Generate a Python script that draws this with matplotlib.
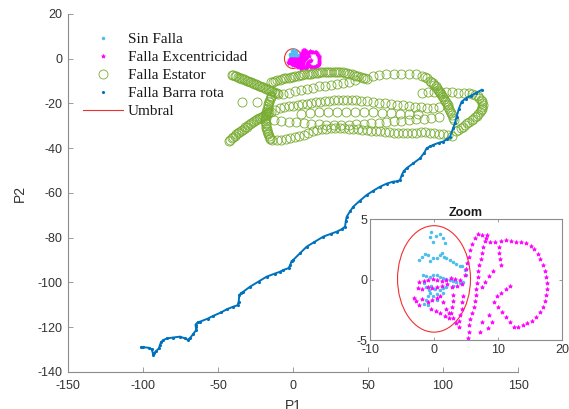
import numpy as np
import matplotlib
matplotlib.use('Agg')
import matplotlib.pyplot as plt
from matplotlib.patches import Ellipse
from matplotlib.lines import Line2D

plt.rcParams['font.family'] = ['Liberation Sans', 'DejaVu Sans']
plt.rcParams['axes.unicode_minus'] = False

# colores por clase
c_sin = '#4DBEEE'
c_exc = '#FF00FF'
c_est = '#77AC30'
c_bar = '#0072BD'
c_umb = '#F03030'

# --- Sin Falla ---
sin_pts = [(-0.4, 3.95), (-0.7, 3.5), (0.9, 3.8), (1.4, 3.4), (1.7, 3.0), (-0.2, 3.1), (0.3, 3.6),
           (-2.3, 1.6), (-1.9, 1.9), (-1.4, 2.1), (-0.9, 2.0), (-0.7, 1.5), (-0.2, 1.8), (0.4, 1.75),
           (0.9, 2.0), (1.2, 2.2), (1.6, 1.9), (1.9, 1.75), (2.5, 1.6), (3.0, 1.45), (3.5, 1.3),
           (4.0, 1.15), (4.3, 1.1), (4.8, 0.8), (5.0, 0.4),
           (-1.7, 0.4), (-1.2, 0.3), (-0.7, 0.2), (-0.1, 0.35), (0.4, 0.4), (0.9, 0.2), (1.4, 0.1),
           (1.9, 0.05), (2.5, 0.0), (3.0, -0.1), (3.5, -0.2), (4.1, -0.3), (4.6, -0.2),
           (-1.5, -0.3), (-1.2, -0.6), (-0.8, -0.9), (-0.7, -1.1), (-1.0, -1.4), (-1.2, -1.7),
           (-0.2, -1.4), (0.4, -1.2), (0.9, -0.9), (1.4, -0.7), (1.9, -0.6), (-0.9, -2.1),
           (-1.5, -2.0), (0.4, -1.7), (1.4, -1.1), (3.0, -0.5), (-0.4, -0.5), (0.2, -0.8)]

# --- Falla Excentricidad ---
exc_loop = [(6.9, 3.8), (7.5, 3.7), (8.1, 3.4), (8.8, 3.1), (9.6, 3.1), (10.4, 3.2), (11.2, 3.3),
            (12.0, 3.2), (12.8, 3.1), (13.6, 3.1), (14.4, 3.0), (15.1, 2.8), (15.7, 2.5), (16.2, 2.1),
            (16.6, 1.7), (17.0, 1.2), (17.3, 0.7), (17.5, 0.2), (17.6, -0.3), (17.6, -0.8), (17.5, -1.3),
            (17.3, -1.8), (17.0, -2.3), (16.6, -2.7), (16.0, -3.1), (15.3, -3.4), (14.6, -3.6),
            (13.9, -3.8), (13.2, -3.9), (12.5, -3.9), (11.8, -3.5), (11.2, -3.1), (10.6, -2.7),
            (10.0, -2.3), (9.4, -1.9)]
exc_lines = [(10.1, 2.7), (10.2, 2.2), (10.3, 1.7), (10.4, 1.2),
             (9.8, -1.4), (10.5, -1.1), (11.2, -0.8), (11.9, -0.5),
             (6.4, 3.4), (6.0, 2.9), (5.7, 2.4), (5.4, 1.9), (5.2, 1.4), (5.0, 0.9), (4.8, 0.4),
             (8.3, 3.7), (8.0, 3.2), (7.7, 2.7), (7.5, 2.2), (7.3, 1.7), (7.1, 1.2), (6.9, 0.7),
             (6.8, 0.2), (6.7, -0.3), (6.6, -0.8), (6.5, -1.3), (6.4, -1.8), (6.3, -2.3),
             (5.9, -2.8), (5.7, -3.3), (5.5, -3.8), (5.4, -4.3), (5.3, -4.8)]
exc_center = [(-2.3, -0.2), (-1.6, -0.1), (-0.9, 0.0), (-0.2, 0.05), (0.5, 0.0), (1.2, -0.1),
              (1.9, 0.0), (2.6, 0.1), (3.3, 0.05), (4.0, 0.0),
              (-2.5, -0.7), (-1.8, -0.8), (-1.0, -0.6), (-0.3, -0.7), (0.5, -0.6), (1.3, -0.5),
              (2.0, -0.4), (2.8, -0.6), (3.6, -0.5), (4.4, -0.4),
              (-3.2, -1.5), (-2.8, -1.8), (-2.4, -2.1), (-1.8, -1.6), (-1.0, -1.9), (-0.3, -1.7),
              (0.4, -1.5), (0.9, -1.4), (1.4, -1.9), (1.9, -2.4), (2.4, -2.8), (2.9, -3.2),
              (3.4, -3.6), (3.9, -3.9), (3.0, -1.3), (2.9, -1.8), (2.8, -2.3), (2.7, -2.8),
              (4.5, -1.4), (4.4, -1.9), (4.3, -2.4), (4.1, -2.9), (3.9, -3.4),
              (-0.4, -2.4), (0.3, -2.6), (1.0, -2.8), (1.7, -3.0), (2.4, -3.2),
              (8.0, -0.2), (8.6, 0.3), (9.2, 0.7), (7.5, -0.6), (8.6, -2.9), (9.0, -3.5),
              (8.4, -4.0), (7.5, -3.5), (7.2, -4.3)]

# --- Falla Estator (tramos de la trayectoria) ---
est_top_x = [-15, -13.5, -12, -10.5, -9, -7.5, -6, -4.5, -3, -1.5, 0, 1.5, 3, 4.5, 6, 7.5, 9, 10.5,
             12, 13.5, 15, 16.5, 18, 19.5, 21, 22.5, 24, 25.5, 27, 28.5, 30, 31.5, 33, 34.5, 36,
             37.5, 39, 40.5, 42, 43.5, 45, 46.5, 48, 49.5,
             53, 57, 62, 67, 72, 77, 82, 86,
             88, 89.5, 91, 92, 93, 94, 95, 95.8, 96.5, 97.2, 98, 98.7, 99.4, 100, 100.6, 101.2,
             101.8, 102.4, 103, 103.6, 104.2, 104.8, 105.4, 106, 106.6, 107.2]
est_top_y = [-10.5, -10.2, -9.9, -9.6, -9.3, -9.0, -8.8, -8.6, -8.4, -8.2,
             -8.0, -7.8, -7.6, -7.4, -7.2, -7.0, -6.8, -6.7, -6.6, -6.4,
             -6.3, -6.2, -6.1, -6.0, -5.9, -5.85, -5.8, -5.8, -5.8, -5.85,
             -5.9, -6.0, -6.1, -6.3, -6.5, -6.7, -7.0, -7.3, -7.6, -7.9,
             -8.2, -8.5, -8.8, -9.0,
             -7.6, -7.3, -7.0, -6.8, -6.7, -6.6, -6.9, -7.6,
             -8, -8.8, -9.8, -10.4, -11, -11.7, -12.4, -13.1, -13.8, -14.5, -15.2, -15.9, -16.6,
             -17.3, -18, -18.7, -19.4, -20.1, -20.8, -21.6, -22.4, -23.2, -24.2, -25.2, -26.4,
             -27.6]
est_left_x = [-41, -40, -39, -38, -37, -36, -35, -34, -33, -32, -31, -30, -29, -28, -27, -26, -25,
              -24, -23, -22, -21, -20, -19, -18, -17, -16, -15, -14, -13, -12, -11, -10]
est_left_y = [-7.2, -7.3, -7.5, -7.8, -8.1, -8.4, -8.7, -8.9, -9.2, -9.5, -9.8, -10, -10.3, -10.6,
              -10.9, -11.1, -11.4, -11.7, -12, -12.3, -12.6, -12.8, -13.1, -13.4, -13.7, -14,
              -14.3, -14.6, -14.9, -15.2, -15.5, -15.7]
est_mid_x = [-7, -3, 1, 5, 9, 13, 17, 21, 25, 29, 33, 37, 41]
est_mid_y = [-15.8, -15.2, -14.6, -14, -13.4, -12.9, -12.4, -12, -11.6, -11.2, -10.8, -10.2, -9.4]
est_cross_x = [-14.5, -14.9, -15.3, -15.7, -16, -16.4, -16.7, -17, -17.3, -17.6, -17.8, -18,
               -18.2, -18.3, -18.4, -18.4, -18.3, -18.2, -18, -17.8, -17.5, -17.2, -16.8, -16.4,
               -16, -15.6, -15.2]
est_cross_y = [-16.5, -17.3, -18, -18.8, -19.5, -20.3, -21, -21.8, -22.5, -23.3, -24, -24.8,
               -25.5, -26.3, -27, -27.8, -28.5, -29.3, -30, -30.8, -31.5, -32.3, -33, -33.8,
               -34.5, -35.3, -36]
est_diag_x = [-43, -42, -41, -40, -39, -38, -37, -36, -35, -34, -33, -32, -31, -30, -29, -28, -27,
              -26, -25, -24, -23, -22, -21, -20, -19, -18, -17, -16, -15,
              -12, -9, -6, -3, 0, 3, 6, 9, 12, 15, 18, 21, 24, 27, 30, 33, 36, 39, 42, 45, 49,
              53, 57, 61, 65, 69, 73, 77, 81, 85, 89, 93, 97]
est_diag_y = [-36.8, -36.2, -35.6, -35, -34.4, -33.8, -33.3, -32.8, -32.2, -31.7, -31.2, -30.7,
              -30.3, -29.8, -29.3, -28.8, -28.4, -28, -27.5, -27.1, -26.7, -26.3, -25.9, -25.5,
              -25.1, -24.7, -24.3, -24, -23.6,
              -22.8, -22.2, -21.7, -21.3, -21, -20.7, -20.4, -20.1, -19.8, -19.5, -19.2, -18.9,
              -18.7, -18.5, -18.4, -18.3, -18.3, -18.4, -18.5, -18.7, -19, -19.3, -19.6, -19.9,
              -20.2, -20.5, -20.8, -21.1, -21.4, -21.7, -21.9, -21.8, -21.5]
est_solo_x = [-34, -24]
est_solo_y = [-19.2, -19.2]
est_bot_x = [-14, -11, -8, -5, -2, 1, 4, 7, 10, 13, 16, 19, 22, 25, 28, 31, 34, 37, 40, 43, 46,
             49, 52, 55, 58, 61, 64, 67, 70, 73, 76, 79, 82, 85, 88, 91, 94, 97, 100, 103, 106]
est_bot_y = [-36.5, -36.3, -36.1, -35.9, -35.6, -35.2, -34.6, -33.9, -33.2, -32.5,
             -31.9, -31.5, -31.2, -31, -30.9, -30.9, -31, -31.2, -31.4, -31.6,
             -31.8, -32, -32.2, -32.4, -32.5, -32.7, -32.9, -33, -33.1, -33.2,
             -33.2, -33.1, -33, -32.9, -32.9, -33, -33.2, -33.5, -33.8, -34.1,
             -34.4]
est_low_x = [-13, -8, -3, 2, 7, 12, 17, 22, 27, 32, 37, 42, 47, 52, 57, 62, 67, 72, 77, 82, 87,
             92, 97]
est_low_y = [-27.5, -27.8, -28.1, -28.4, -28.7, -29, -29.2, -29.4, -29.5, -29.5, -29.4, -29.3,
             -29.1, -28.9, -28.6, -28.3, -28, -27.7, -27.4, -27.1, -26.8, -26.4, -26]
est_row_x = [5, 11, 17, 23, 29, 35, 41, 47, 53, 59, 65, 71, 77, 83]
est_row_y = [-24.5, -24.2, -24, -23.8, -23.7, -23.6, -23.6, -23.7, -23.9, -24.1, -24.3, -24.5,
             -24.6, -24.6]
est_right_x = [86, 90, 94, 98, 102, 106, 110, 114, 117, 119.5, 121.5, 123, 124.3, 125.3, 126,
               126.3, 126.4, 126.2, 125.8, 125.2, 124.5, 123.6, 122.6, 121.5, 120.3, 119, 117.6,
               116.2, 114.7, 113.2, 111.7, 110.2, 108.7]
est_right_y = [-15.2, -15, -14.9, -14.9, -15, -15, -15.1, -15.2, -15.4, -15.7, -16.2, -16.8,
               -17.5, -18.3, -19.1, -19.9, -20.7, -21.5, -22.3, -23.1, -23.9, -24.7, -25.4,
               -26.1, -26.8, -27.5, -28.2, -28.9, -29.6, -30.3, -31, -31.7, -32.4]

# --- Falla Barra rota ---
barra_x = [-101, -99.8, -96, -94.2, -93.1, -92.5, -91, -89.5, -88.7, -88, -86.5, -84.2, -80,
           -75.3, -72, -70.3, -68.7, -66.5, -64.5, -64.8, -65, -63.5, -62, -57, -53.1, -48, -44.2,
           -39.8, -37, -36.2, -35.8, -34.5, -33.1, -28.7, -23, -17.6, -12, -8.7, -6.4, -3, -2, -1,
           0.2, 4.7, 9.1, 14, 20.2, 25, 29.1, 32.5, 34.7, 35.2, 35.8, 38, 40.2, 44.5, 49.1, 53.5,
           58, 62.5, 66.9, 69.5, 71.3, 72.5, 73.8, 75.8, 80, 84.7, 87.5, 89.1, 91.3, 93.5, 97,
           100.2, 102.5, 104.7, 106.8, 108, 109.1, 110.5, 112.4, 115, 118.5, 122, 125.8]
barra_y = [-129, -128.9, -129.2, -129.8, -132.4, -131.5, -130.5, -129.5, -128, -126.6, -125.8,
           -125, -124.6, -124.2, -125, -125.6, -124.9, -123, -121.2, -119.8, -118.8, -117.8,
           -117.5, -116.2, -114.9, -113.4, -112, -110.8, -110.2, -108.5, -105.6, -104.7, -104.1,
           -101.9, -99.6, -97.4, -96, -95.2, -94.4, -93.6, -92.4, -90.5, -89.9, -86.9, -84, -82,
           -79.5, -78.3, -77.3, -76.2, -75, -72.5, -70.6, -68.2, -66.1, -63.5, -60.9, -59, -57.2,
           -55.8, -54.9, -54.8, -54.2, -52, -50.2, -48.9, -46.8, -44.5, -42, -40, -39.2, -38.5,
           -37.6, -37, -36, -34.8, -31, -28.5, -25.9, -22.5, -19.2, -17.8, -16.5, -15.3, -13.9]

# --- Umbral (centro y ejes de la elipse) ---
umbral_centro = (0.0, 0.05)
umbral_ancho = 11.4
umbral_alto = 8.8

sin_x, sin_y = np.array(sin_pts).T
exc_x, exc_y = np.array(exc_loop + exc_lines + exc_center).T
est_x = np.concatenate([est_top_x, est_left_x, est_mid_x, est_cross_x, est_diag_x, est_solo_x,
                        est_bot_x, est_low_x, est_row_x, est_right_x])
est_y = np.concatenate([est_top_y, est_left_y, est_mid_y, est_cross_y, est_diag_y, est_solo_y,
                        est_bot_y, est_low_y, est_row_y, est_right_y])

txt_col = '#333333'
ax_col = '#8c8c8c'

fig = plt.figure(figsize=(5.69, 4.09), dpi=100)
ax = fig.add_axes([0.1195, 0.0905, 0.7909, 0.8753])

h1, = ax.plot(sin_x, sin_y, '.', color=c_sin, ms=3)
h2, = ax.plot(exc_x, exc_y, '*', color=c_exc, ms=3, mew=0.5)
h3, = ax.plot(est_x, est_y, 'o', mfc='none', mec=c_est, ms=6.5, mew=0.6)
ax.plot(barra_x, barra_y, '-', color=c_bar, lw=1.4)
h4, = ax.plot(barra_x, barra_y, '.', color=c_bar, ms=2.5)
ax.add_patch(Ellipse(umbral_centro, umbral_ancho, umbral_alto, fill=False, ec=c_umb, lw=0.8))
h5 = Line2D([], [], color=c_umb, lw=0.8)

ax.set_xlim(-150, 150)
ax.set_ylim(-140, 20)
ax.set_xticks(np.arange(-150, 151, 50))
ax.set_yticks(np.arange(-140, 21, 20))
for s in ['top', 'right']:
    ax.spines[s].set_visible(False)
for s in ['left', 'bottom']:
    ax.spines[s].set_color(ax_col)
    ax.spines[s].set_linewidth(0.8)
ax.tick_params(direction='in', length=3.5, width=0.6, color=ax_col, labelcolor=txt_col,
               labelsize=9)
ax.tick_params(axis='x', pad=6)
ax.tick_params(axis='y', pad=4)
ax.set_xlabel('P1', fontsize=10, color=txt_col)
ax.set_ylabel('P2', fontsize=10, color=txt_col)
ax.xaxis.set_label_coords(0.5, -0.075)
ax.yaxis.set_label_coords(-0.091, 0.5)

leg = ax.legend([h1, h2, h3, h4, h5],
                ['Sin Falla', 'Falla Excentricidad', 'Falla Estator', 'Falla Barra rota', 'Umbral'],
                loc='upper left', bbox_to_anchor=(0.146, 0.92), bbox_transform=fig.transFigure,
                frameon=False, prop={'family': 'Liberation Serif', 'size': 11},
                handlelength=2.6, handletextpad=0.33, labelspacing=0.28, borderpad=0,
                borderaxespad=0)
for t in leg.get_texts():
    t.set_color('#1a1a1a')

# recuadro ampliado alrededor del origen
axin = fig.add_axes([0.6503, 0.1687, 0.3374, 0.2958])
axin.plot(sin_x, sin_y, '.', color=c_sin, ms=3)
axin.plot(exc_x, exc_y, '*', color=c_exc, ms=3, mew=0.5)
axin.add_patch(Ellipse(umbral_centro, umbral_ancho, umbral_alto, fill=False, ec=c_umb, lw=0.8))
axin.set_xlim(-10, 20)
axin.set_ylim(-5, 5)
axin.set_xticks([-10, 0, 10, 20])
axin.set_yticks([-5, 0, 5])
for s in axin.spines.values():
    s.set_color(ax_col)
    s.set_linewidth(0.8)
axin.tick_params(direction='in', length=2.5, width=0.6, color=ax_col, labelcolor=txt_col,
                 labelsize=9, top=True, right=True)
axin.tick_params(axis='x', pad=3)
axin.tick_params(axis='y', pad=2)
axin.set_title('Zoom', fontsize=9, fontweight='bold', color='#1a1a1a', pad=2)

fig.savefig('out.png', dpi=100)
